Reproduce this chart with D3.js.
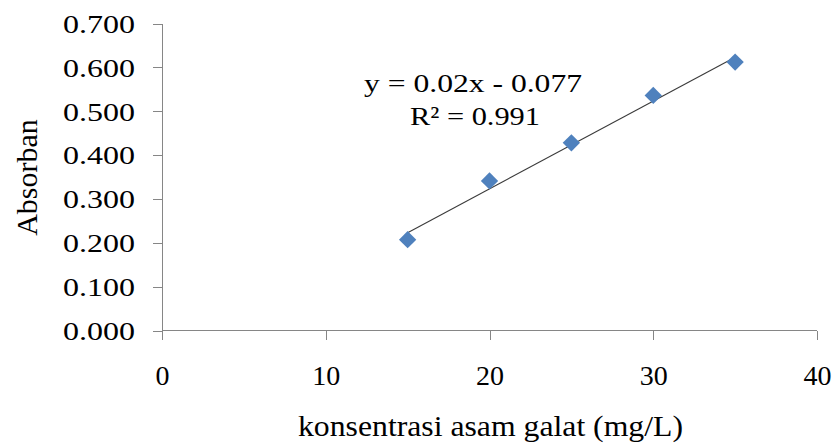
<!DOCTYPE html>
<html>
<head>
<meta charset="utf-8">
<script src="https://cdn.jsdelivr.net/npm/d3@7/dist/d3.min.js"></script>
<style>
  html, body { margin: 0; padding: 0; background: #fff; }
  svg { display: block; }
  text { font-family: "Liberation Serif", "Times New Roman", serif; fill: #000; }
</style>
</head>
<body>
<svg id="chart" width="834" height="443"></svg>
<script>
// Gallic acid calibration: concentration (mg/L) vs absorbance
const concentration = [15, 20, 25, 30, 35];
const absorbance = [0.207, 0.341, 0.428, 0.536, 0.612];
const xTicks = [0, 10, 20, 30, 40];
const yTicks = [0, 0.1, 0.2, 0.3, 0.4, 0.5, 0.6, 0.7];
const slope = 0.02;
const intercept = -0.077;
const equationLines = ["y = 0.02x - 0.077", "R\u00B2 = 0.991"];
const xTitle = "konsentrasi asam galat (mg/L)";
const yTitle = "Absorban";

const svg = d3.select("#chart");
const axisColor = "#868686";
const markColor = "#4F81BD";

const x = d3.scaleLinear().domain([0, 40]).range([162, 817]);
const y = d3.scaleLinear().domain([0, 0.7]).range([330.5, 23.5]);

// Y axis
const yAxis = svg.append("g")
  .attr("transform", `translate(${x(0)},0)`)
  .call(d3.axisLeft(y).tickValues(yTicks).tickSize(9).tickPadding(18)
    .tickFormat(d3.format(".3f")));
yAxis.selectAll("path, line").attr("stroke", axisColor).attr("shape-rendering", "crispEdges");
yAxis.select(".domain").attr("d", `M0,${y(0.7)}V${y(0)}`);
yAxis.selectAll("text")
  .attr("font-size", 26)
  .attr("textLength", 72)
  .attr("lengthAdjust", "spacingAndGlyphs")
  .attr("dy", "0.34em");

// X axis
const xAxis = svg.append("g")
  .attr("transform", `translate(0,${y(0)})`)
  .call(d3.axisBottom(x).tickValues(xTicks).tickSize(9).tickPadding(28)
    .tickFormat(d3.format("d")));
xAxis.selectAll("path, line").attr("stroke", axisColor).attr("shape-rendering", "crispEdges");
xAxis.select(".domain").attr("d", `M${x(0)},0H${x(40)}`);
xAxis.selectAll("text")
  .attr("font-size", 28)
  .attr("dy", "0.62em");

// Axis titles
svg.append("text")
  .attr("x", 490.5).attr("y", 436)
  .attr("text-anchor", "middle")
  .attr("font-size", 29)
  .attr("textLength", 385)
  .attr("lengthAdjust", "spacingAndGlyphs")
  .text(xTitle);

svg.append("text")
  .attr("transform", "translate(37,177.5) rotate(-90)")
  .attr("text-anchor", "middle")
  .attr("font-size", 30)
  .text(yTitle);

// Linear trendline over the measured range
const xMin = d3.min(concentration), xMax = d3.max(concentration);
svg.append("line")
  .attr("x1", x(xMin)).attr("y1", y(slope * xMin + intercept))
  .attr("x2", x(xMax)).attr("y2", y(slope * xMax + intercept))
  .attr("stroke", "#3a3a3a").attr("stroke-width", 1.1);

// Diamond markers
const diamond = d3.symbol().type(d3.symbolSquare).size(150);
svg.append("g").selectAll("path")
  .data(concentration.map((c, i) => [c, absorbance[i]]))
  .join("path")
  .attr("d", diamond)
  .attr("transform", d => `translate(${x(d[0])},${y(d[1])}) rotate(45)`)
  .attr("fill", markColor);

// Regression equation
svg.append("text")
  .attr("x", 473).attr("y", 92)
  .attr("text-anchor", "middle")
  .attr("font-size", 26)
  .attr("textLength", 218)
  .attr("lengthAdjust", "spacingAndGlyphs")
  .text(equationLines[0]);
svg.append("text")
  .attr("x", 475).attr("y", 125)
  .attr("text-anchor", "middle")
  .attr("font-size", 26)
  .attr("textLength", 130)
  .attr("lengthAdjust", "spacingAndGlyphs")
  .text(equationLines[1]);
</script>
</body>
</html>
